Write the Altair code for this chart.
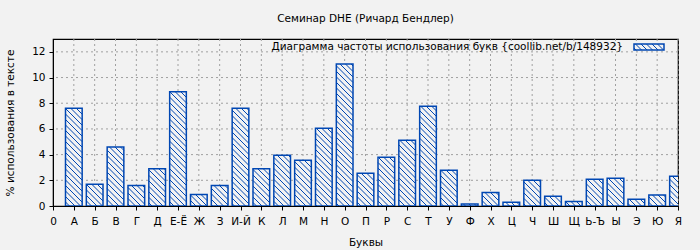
import altair as alt
import pandas as pd
import numpy as np

# ---- data ----
letters = ["А", "Б", "В", "Г", "Д", "Е-Ё", "Ж", "З", "И-Й", "К", "Л", "М", "Н", "О", "П",
           "Р", "С", "Т", "У", "Ф", "Х", "Ц", "Ч", "Ш", "Щ", "Ь-Ъ", "Ы", "Э", "Ю", "Я"]
values = [7.6, 1.7, 4.6, 1.6, 2.9, 8.9, 0.9, 1.6, 7.6, 2.9, 3.95, 3.56, 6.05, 11.05, 2.55,
          3.8, 5.12, 7.77, 2.78, 0.16, 1.06, 0.29, 2.0, 0.76, 0.36, 2.08, 2.16, 0.52, 0.86, 2.31]
tick_labels = ["0"] + letters
x_ticks = list(range(0, 31))
y_ticks = [0, 2, 4, 6, 8, 10, 12]

title_text = "Семинар DHE (Ричард Бендлер)"
legend_text = "Диаграмма частоты использования букв {coollib.net/b/148932}"
x_title = "Буквы"
y_title = "% использования в тексте"

# ---- layout ----
W, H = 625, 167
XMAX, YMAX = 30, 13
BOXW = 0.8
BLUE = "#0047b3"
BG = "#f2f2f2"
GRID = "#a0a0a0"
FONT = "DejaVu Sans"
FS = 10.5

sx = W / XMAX
sy = H / YMAX

df = pd.DataFrame({"pos": np.arange(1, len(letters) + 1), "letter": letters, "value": values})
df["x0"] = df["pos"] - BOXW / 2
df["x1"] = df["pos"] + BOXW / 2
df["y0"] = 0.0


def hatch(L, R, B, T, d=5.5):
    """45-degree '\\' hatching lines clipped to a rectangle (pixel units)."""
    segs = []
    cmin = L + B
    cmax = R + T
    c = np.ceil(cmin / d) * d
    while c < cmax:
        xa = max(L, c - T)
        xb = min(R, c - B)
        if xb - xa > 0.3:
            segs.append((xa, c - xa, xb, c - xb))
        c += d
    return segs


rows = []
for _, r in df.iterrows():
    L = r["x0"] * sx
    R = min(r["x1"], XMAX) * sx
    T = r["value"] * sy
    for xa, ya, xb, yb in hatch(L, R, 0.0, T):
        rows.append({"hx": xa / sx, "hy": ya / sy, "hx2": xb / sx, "hy2": yb / sy})
hdf = pd.DataFrame(rows)

xscale = alt.Scale(domain=[0, XMAX], nice=False, zero=False)
yscale = alt.Scale(domain=[0, YMAX], nice=False)

label_expr = "[" + ",".join("'" + t + "'" for t in tick_labels) + "][datum.value]"

xaxis = alt.Axis(values=x_ticks, labelExpr=label_expr, title=x_title, grid=False,
                 labelOverlap=False, labelFlush=False, tickSize=4, labelPadding=6, titlePadding=11)
yaxis = alt.Axis(values=y_ticks, title=y_title, grid=False,
                 labelOverlap=False, labelFlush=False, tickSize=4, labelPadding=4, titlePadding=16)

# grid lines (drawn first, behind bars)
gx = alt.Chart(pd.DataFrame({"g": x_ticks[1:]})).mark_rule(
    color=GRID, strokeDash=[2, 3], strokeWidth=1
).encode(x=alt.X("g:Q", scale=xscale, axis=xaxis))
gy = alt.Chart(pd.DataFrame({"g": y_ticks[1:]})).mark_rule(
    color=GRID, strokeDash=[2, 3], strokeWidth=1
).encode(y=alt.Y("g:Q", scale=yscale, axis=yaxis))

bars = alt.Chart(df).mark_rect(fill=BG, stroke=BLUE, strokeWidth=1.5, clip=True).encode(
    x=alt.X("x0:Q", scale=xscale, axis=xaxis),
    x2="x1:Q",
    y=alt.Y("y0:Q", scale=yscale, axis=yaxis),
    y2="value:Q",
)

hatches = alt.Chart(hdf).mark_rule(color=BLUE, strokeWidth=1, clip=True).encode(
    x=alt.X("hx:Q", scale=xscale, axis=xaxis), x2="hx2:Q",
    y=alt.Y("hy:Q", scale=yscale, axis=yaxis), y2="hy2:Q",
)

# legend (pixel coordinates inside the plot area)
LX0, LX1, LY0, LY1 = 581, 611, 5, 11
leg_rows = []
for xa, ya, xb, yb in hatch(LX0, LX1, 0, LY1 - LY0, d=5.5):
    leg_rows.append({"lx": xa, "ly": LY1 - ya, "lx2": xb, "ly2": LY1 - yb})
ldf = pd.DataFrame(leg_rows)

leg_text = alt.Chart(pd.DataFrame({"t": [legend_text]})).mark_text(
    align="right", baseline="middle", font=FONT, fontSize=FS, color="black"
).encode(x=alt.value(570), y=alt.value(8), text="t:N")

leg_box = alt.Chart(pd.DataFrame({"a": [0]})).mark_rect(
    fill=BG, stroke=BLUE, strokeWidth=1.5
).encode(x=alt.value(LX0), x2=alt.value(LX1), y=alt.value(LY0), y2=alt.value(LY1))

leg_hatch = alt.Chart(ldf).mark_rule(color=BLUE, strokeWidth=1).encode(
    x=alt.X("lx:Q", scale=None), x2="lx2:Q",
    y=alt.Y("ly:Q", scale=None), y2="ly2:Q",
)

chart = alt.layer(gx, gy, bars, hatches, leg_text, leg_box, leg_hatch).properties(
    width=W, height=H,
    title=alt.TitleParams(title_text, font=FONT, fontSize=FS, fontWeight="normal",
                          color="black", anchor="middle", offset=14),
    autosize=alt.AutoSizeParams(type="none"),
    padding={"left": 53, "top": 39, "right": 22, "bottom": 44},
    background=BG,
).configure_view(
    fill=BG, stroke="black", strokeWidth=1.2
).configure_axis(
    labelFont=FONT, titleFont=FONT, labelFontSize=FS, titleFontSize=FS,
    titleFontWeight="normal", labelColor="black", titleColor="black",
    domainColor="black", tickColor="black", domain=True,
)

chart.save("out.html", embed_options={"renderer": "svg", "actions": False})
